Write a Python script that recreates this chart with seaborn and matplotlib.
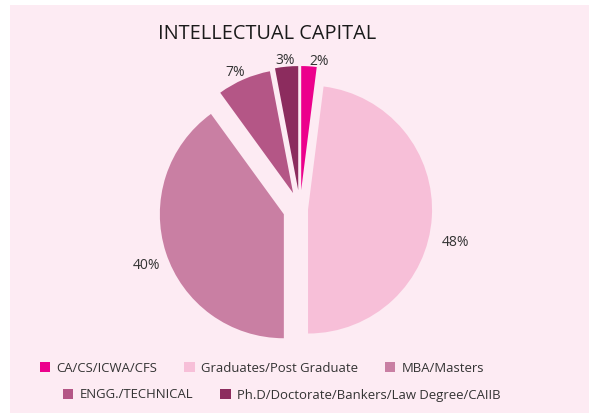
import numpy as np
import matplotlib
matplotlib.use("Agg")
import matplotlib.pyplot as plt
import matplotlib.patches as mpatches
import seaborn as sns

# data
categories = ["CA/CS/ICWA/CFS", "Graduates/Post Graduate", "MBA/Masters",
              "ENGG./TECHNICAL", "Ph.D/Doctorate/Bankers/Law Degree/CAIIB"]
shares = [2, 48, 40, 7, 3]
colors = ["#EC008C", "#F7BFD8", "#C97FA3", "#B45686", "#8C2C5E"]

# layout
explode = [0.153, 0.065, 0.137, 0.14, 0.153]
lab_r = [1.203, 1.287, 1.316, 1.223, 1.20]
lab_dang = [-3.7, -8.6, 2.1, 2.0, 0.4]   # degrees, ccw

sns.set_theme(style="white")
plt.rcParams["font.family"] = ["Open Sans", "DejaVu Sans"]
bg = "#FDEBF3"

fig = plt.figure(figsize=(5.89, 4.13), dpi=100)
fig.patch.set_facecolor("white")
fig.patches.append(mpatches.Rectangle((10 / 589, 0), 1, 408 / 413,
                                      transform=fig.transFigure,
                                      facecolor=bg, edgecolor="none", zorder=-5))

# pie centre at (300, 209) px, radius 124 px
R = 124
ax = fig.add_axes([(300 - 2 * R) / 589, (204 - 1.6 * R) / 413,
                   4 * R / 589, 3.2 * R / 413])
ax.set_facecolor("none")
ax.set_zorder(2)
wedges, texts = ax.pie(shares, colors=colors, explode=explode, startangle=90,
                       counterclock=False, wedgeprops=dict(linewidth=0))
for i, w in enumerate(wedges):
    ang = np.deg2rad((w.theta1 + w.theta2) / 2 + lab_dang[i])
    ax.text(lab_r[i] * np.cos(ang), lab_r[i] * np.sin(ang), "%d%%" % shares[i],
            ha="center", va="center", fontsize=10, color="#333333")
ax.set_xlim(-2, 2)
ax.set_ylim(-1.6, 1.6)
ax.set_aspect("auto")
ax.axis("off")

fig.text(267 / 589, 1 - 34 / 413, "INTELLECTUAL CAPITAL", ha="center",
         va="center", fontsize=14.3, color="#1a1a1a")

leg_kw = dict(frameon=False, fontsize=9.45, handlelength=0.78, handleheight=0.78,
              handletextpad=0.5, columnspacing=2.05, borderpad=0,
              labelcolor="#333333")
l1 = fig.legend(wedges[:3], categories[:3], loc="center", ncol=3,
                bbox_to_anchor=(262 / 589, 1 - 368 / 413), **leg_kw)
l2 = fig.legend(wedges[3:], categories[3:], loc="center", ncol=2,
                bbox_to_anchor=(282 / 589, 1 - 395 / 413), **leg_kw)

fig.savefig("out.png", dpi=100, facecolor=fig.get_facecolor())
